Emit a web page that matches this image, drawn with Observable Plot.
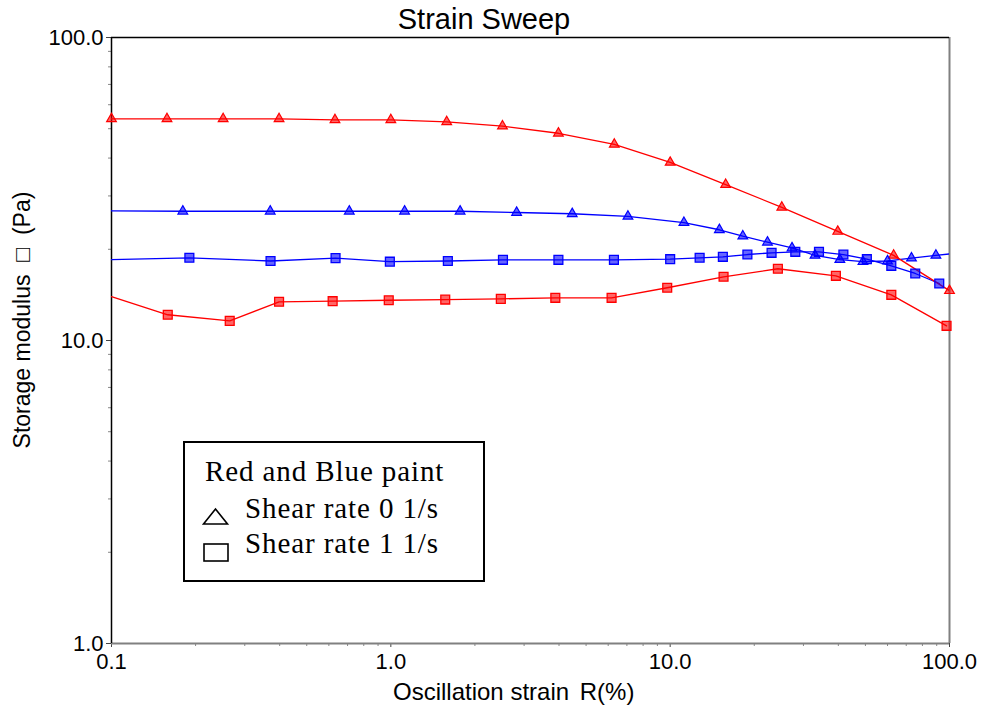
<!DOCTYPE html>
<html>
<head>
<meta charset="utf-8">
<script src="https://cdn.jsdelivr.net/npm/d3@7"></script>
<script src="https://cdn.jsdelivr.net/npm/@observablehq/plot@0.6"></script>
<style>
  html, body { margin: 0; padding: 0; background: #fff; }
  #wrap { position: relative; width: 984px; height: 714px; overflow: hidden; font-family: "Liberation Sans", Arial, sans-serif; }
  .ov { position: absolute; white-space: pre; line-height: 1; color: #000; }
  #legend { position: absolute; left: 183px; top: 441px; width: 302px; height: 141px; box-sizing: border-box; border: 2px solid #000; background: #fff; font-family: "Liberation Serif", "Times New Roman", serif; }
  #legend .t { position: absolute; white-space: nowrap; line-height: 1; font-size: 29px; letter-spacing: 0.9px; }
  #legend svg { position: absolute; }
</style>
</head>
<body>
<div id="wrap"></div>
<script>
// ---- Data ----
const chartTitle = "Strain Sweep";
const xLabelMain = "Oscillation strain ";
const xLabelUnit = "R(%)";
const yLabel = "Storage modulus  \u25A1  (Pa)";
const legendTitle = "Red and Blue paint";
const legendLabels = ["Shear rate 0 1/s", "Shear rate 1 1/s"];

const xTicks = [0.1, 1, 10, 100];
const yTicks = [1, 10, 100];

// Red paint, shear rate 0 1/s (triangles)
const redTriStrain  = [0.1, 0.158, 0.251, 0.398, 0.631, 1.0, 1.585, 2.51, 3.98, 6.31, 10, 15.8, 25.1, 39.8, 63.1, 100];
const redTriModulus = [53.9, 53.9, 53.9, 53.9, 53.5, 53.5, 52.7, 51.0, 48.3, 44.4, 38.7, 32.7, 27.5, 22.9, 19.1, 14.6];

// Blue paint, shear rate 0 1/s (triangles)
const blueTriStrain  = [0.18, 0.37, 0.71, 1.12, 1.77, 2.82, 4.46, 7.06, 11.2, 15.0, 18.2, 22.3, 27.3, 33.0, 40.5, 49.0, 60.0, 73.1, 89.4];
const blueTriModulus = [26.7, 26.7, 26.7, 26.7, 26.7, 26.45, 26.2, 25.7, 24.5, 23.2, 22.1, 21.1, 20.2, 19.1, 18.5, 18.2, 18.3, 18.7, 19.1];

// Blue paint, shear rate 1 1/s (squares)
const blueSqStrain  = [0.19, 0.371, 0.634, 0.992, 1.6, 2.52, 3.98, 6.29, 10.0, 12.75, 15.44, 18.9, 23.07, 28.05, 34.1, 41.7, 50.6, 61.9, 75.4, 91.9];
const blueSqModulus = [18.75, 18.3, 18.7, 18.2, 18.3, 18.46, 18.46, 18.46, 18.55, 18.75, 18.89, 19.22, 19.47, 19.62, 19.62, 19.22, 18.55, 17.64, 16.64, 15.42];

// Red paint, shear rate 1 1/s (squares)
const redSqStrain  = [0.159, 0.265, 0.398, 0.619, 0.983, 1.566, 2.476, 3.88, 6.17, 9.76, 15.53, 24.3, 39.2, 61.9, 97.6];
const redSqModulus = [12.16, 11.61, 13.42, 13.48, 13.58, 13.65, 13.72, 13.83, 13.83, 14.93, 16.23, 17.25, 16.35, 14.15, 11.18];

// Line ends at the plot edges that carry no symbol
const edgeSeries  = ["blueTri", "blueTri", "blueSq", "redSq"];
const edgeStrain  = [0.1, 100, 0.1, 0.1];
const edgeModulus = [26.8, 19.3, 18.5, 13.95];

const seriesColor = { redTri: "#ff0000", blueTri: "#0000ff", blueSq: "#0000ff", redSq: "#ff0000" };
const seriesSymbol = { redTri: "triangle", blueTri: "triangle", blueSq: "square", redSq: "square" };

// ---- Build tables ----
function rows(name, xs, ys) { return xs.map((x, i) => ({ series: name, strain: x, modulus: ys[i] })); }
const pts = [
  ...rows("redTri", redTriStrain, redTriModulus),
  ...rows("blueTri", blueTriStrain, blueTriModulus),
  ...rows("blueSq", blueSqStrain, blueSqModulus),
  ...rows("redSq", redSqStrain, redSqModulus)
];
const edges = edgeSeries.map((s, i) => ({ series: s, strain: edgeStrain[i], modulus: edgeModulus[i] }));
const linePts = [...pts, ...edges].sort((a, b) => d3.ascending(a.series, b.series) || d3.ascending(a.strain, b.strain));

const tri = pts.filter(d => seriesSymbol[d.series] === "triangle");
const sq = pts.filter(d => seriesSymbol[d.series] === "square");

const yMinor = [];
for (const dec of [1, 10]) for (let k = 2; k <= 9; k++) yMinor.push(k * dec);
const xMinor = [];
for (const dec of [0.1, 1, 10]) for (let k = 2; k <= 9; k++) xMinor.push(k * dec);

const fmt = d => d.toFixed(1);

const plot = Plot.plot({
  width: 984,
  height: 714,
  marginTop: 37,
  marginRight: 35,
  marginBottom: 71,
  marginLeft: 111,
  x: { type: "log", domain: [xTicks[0], xTicks[xTicks.length - 1]] },
  y: { type: "log", domain: [yTicks[0], yTicks[yTicks.length - 1]] },
  style: { fontFamily: "'Liberation Sans', Arial, sans-serif", fontSize: "22px", color: "#000", background: "#fff", overflow: "visible" },
  marks: [
    Plot.axisY(yMinor, { tickSize: 3, tickFormat: () => "", stroke: "#888", label: null }),
    Plot.axisX(xMinor, { tickSize: 3, tickFormat: () => "", stroke: "#888", label: null }),
    Plot.axisY(yTicks, { tickSize: 5, tickPadding: 3, tickFormat: fmt, stroke: "#444", label: null }),
    Plot.axisX(xTicks, { tickSize: 4, tickPadding: 6, tickFormat: fmt, stroke: "#444", label: null }),
    Plot.ruleX([xTicks[xTicks.length - 1]], { stroke: "#808080", strokeWidth: 2 }),
    Plot.ruleY([yTicks[0]], { stroke: "#808080", strokeWidth: 2 }),
    Plot.ruleX([xTicks[0]], { stroke: "#000", strokeWidth: 1.5 }),
    Plot.ruleY([yTicks[yTicks.length - 1]], { stroke: "#000", strokeWidth: 1.5 }),
    Plot.line(linePts, { x: "strain", y: "modulus", z: "series", stroke: d => seriesColor[d.series], strokeWidth: 1.3, clip: true }),
    Plot.dot(sq, { x: "strain", y: "modulus", symbol: "square", r: 5, fill: d => seriesColor[d.series], fillOpacity: 0.6, stroke: d => seriesColor[d.series], strokeWidth: 1.3 }),
    Plot.dot(tri, { x: "strain", y: "modulus", symbol: "triangle", r: 3.6, fill: d => seriesColor[d.series], fillOpacity: 0.6, stroke: d => seriesColor[d.series], strokeWidth: 1.2 })
  ]
});

const wrap = document.getElementById("wrap");
wrap.appendChild(plot);

function addText(txt, css) {
  const d = document.createElement("div");
  d.className = "ov";
  d.textContent = txt;
  Object.assign(d.style, css);
  wrap.appendChild(d);
  return d;
}
addText(chartTitle, { left: "484px", top: "5px", fontSize: "29px", transform: "translateX(-50%)" });
const xl = addText(xLabelMain, { left: "393px", top: "680px", fontSize: "24px" });
const unit = document.createElement("span");
unit.textContent = xLabelUnit;
Object.assign(unit.style, { marginLeft: "4px", fontSize: "24px" });
xl.appendChild(unit);
addText(yLabel, { left: "22px", top: "320px", fontSize: "23px", transform: "translate(-50%,-50%) rotate(-90deg)" });

// Legend (inside the plot area)
const lg = document.createElement("div");
lg.id = "legend";
lg.innerHTML =
  `<div class="t" style="left:20px;top:14px">${legendTitle}</div>` +
  `<svg style="left:17px;top:64px" width="28" height="19"><path d="M1.5,17 L13.5,2 L25.5,17 Z" fill="#fff" stroke="#000" stroke-width="1.6"/></svg>` +
  `<div class="t" style="left:60px;top:51px">${legendLabels[0]}</div>` +
  `<svg style="left:17px;top:99px" width="28" height="22"><rect x="2" y="2" width="24" height="17" fill="#fff" stroke="#000" stroke-width="1.6"/></svg>` +
  `<div class="t" style="left:60px;top:86px">${legendLabels[1]}</div>`;
wrap.appendChild(lg);
</script>
</body>
</html>
